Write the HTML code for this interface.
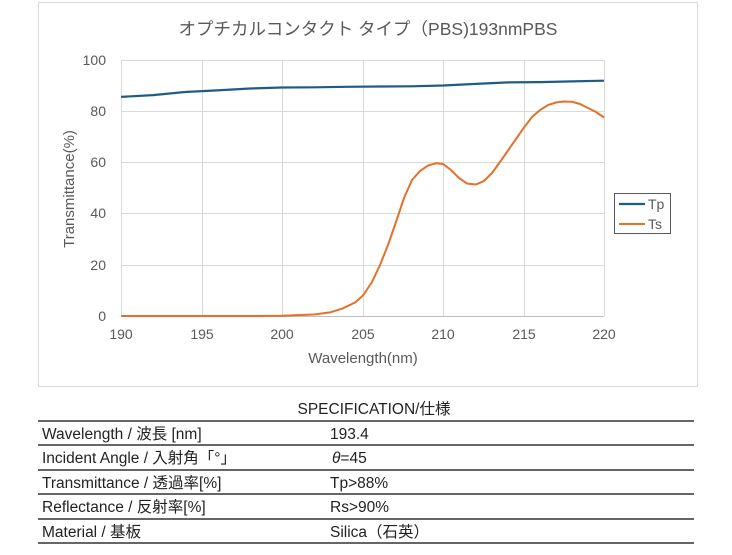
<!DOCTYPE html><html><head><meta charset="utf-8"><style>
body{margin:0;background:#fff;width:732px;height:550px;overflow:hidden;font-family:"Liberation Sans","Noto Sans CJK JP",sans-serif}
svg text{font-family:"Liberation Sans","Noto Sans CJK JP",sans-serif}
</style></head><body>
<svg width="732" height="550" viewBox="0 0 732 550" xmlns="http://www.w3.org/2000/svg">
<rect x="38.5" y="2.5" width="659" height="384" fill="#fff" stroke="#d9d9d9"/>
<text x="368" y="35" text-anchor="middle" font-size="17.5" fill="#595959">オプチカルコンタクト タイプ（PBS)193nmPBS</text>
<g stroke="#d9d9d9" stroke-width="1">
<line x1="121" y1="60.5" x2="604" y2="60.5"/><line x1="121" y1="111.5" x2="604" y2="111.5"/><line x1="121" y1="162.5" x2="604" y2="162.5"/><line x1="121" y1="213.5" x2="604" y2="213.5"/><line x1="121" y1="265.5" x2="604" y2="265.5"/>
<line x1="121.5" y1="60" x2="121.5" y2="316"/><line x1="202.5" y1="60" x2="202.5" y2="316"/><line x1="282.5" y1="60" x2="282.5" y2="316"/><line x1="363.5" y1="60" x2="363.5" y2="316"/><line x1="443.5" y1="60" x2="443.5" y2="316"/><line x1="524.5" y1="60" x2="524.5" y2="316"/><line x1="604.5" y1="60" x2="604.5" y2="316"/>
<line x1="121" y1="316.5" x2="604" y2="316.5" stroke="#bfbfbf"/>
</g>
<g font-size="14" fill="#595959" text-anchor="end">
<text x="106" y="65">100</text><text x="106" y="116">80</text><text x="106" y="167">60</text><text x="106" y="218">40</text><text x="106" y="270">20</text><text x="106" y="321">0</text>
</g>
<g font-size="14" fill="#595959" text-anchor="middle">
<text x="121" y="339">190</text><text x="202" y="339">195</text><text x="282" y="339">200</text><text x="363" y="339">205</text><text x="443" y="339">210</text><text x="524" y="339">215</text><text x="604" y="339">220</text>
</g>
<text x="363" y="363" text-anchor="middle" font-size="15" fill="#595959">Wavelength(nm)</text>
<text transform="translate(74 189) rotate(-90)" text-anchor="middle" font-size="15" fill="#595959">Transmittance(%)</text>
<polyline fill="none" stroke="#1f5c85" stroke-width="2.2" points="121,96.9 153,95.1 185,92 217,90.4 250,88.5 282,87.5 314,87.3 346,86.8 379,86.5 411,86.3 443,85.5 476,83.9 508,82.4 540,82.1 572,81.4 604,80.7"/>
<polyline fill="none" stroke="#e4712a" stroke-width="2" points="121,316 250,316 282,315.7 314,314.5 330,312.4 343,308.3 355,302.5 363,295.5 372,282 380,265 388,245 396,222 404,198 412,180 420,171 428,165.5 436,163.3 443,164 451,170 459,178 467,183.5 476,184.5 484,181 492,173 500,162 508,150.5 516,139 524,127.5 532,117 540,110 548,105 556,102.5 564,101.5 572,101.8 580,104 588,108 596,112 604,117.5"/>
<rect x="614.5" y="193.5" width="56" height="40" fill="#fff" stroke="#595959"/>
<line x1="619" y1="204" x2="645" y2="204" stroke="#1f5c85" stroke-width="2.2"/>
<text x="648" y="209" font-size="14" fill="#595959">Tp</text>
<line x1="619" y1="224" x2="645" y2="224" stroke="#e4712a" stroke-width="2"/>
<text x="648" y="229" font-size="14" fill="#595959">Ts</text>
<text x="374" y="414" text-anchor="middle" font-size="15.5" fill="#222">SPECIFICATION/仕様</text>
<g stroke="#333" stroke-width="1.6">
<line x1="38" y1="421" x2="694" y2="421"/><line x1="38" y1="445" x2="694" y2="445"/><line x1="38" y1="470" x2="694" y2="470"/><line x1="38" y1="494" x2="694" y2="494"/><line x1="38" y1="519" x2="694" y2="519"/><line x1="38" y1="543" x2="694" y2="543"/>
</g>
<g font-size="15.5" fill="#222">
<text x="42" y="439">Wavelength / 波長 [nm]</text><text x="330" y="439">193.4</text>
<text x="42" y="463">Incident Angle / 入射角「°」</text><text x="332" y="463"><tspan font-style="italic">θ</tspan>=45</text>
<text x="42" y="488">Transmittance / 透過率[%]</text><text x="330" y="488">Tp&gt;88%</text>
<text x="42" y="512">Reflectance / 反射率[%]</text><text x="330" y="512">Rs&gt;90%</text>
<text x="42" y="537">Material / 基板</text><text x="330" y="537">Silica（石英）</text>
</g>
</svg>
</body></html>
